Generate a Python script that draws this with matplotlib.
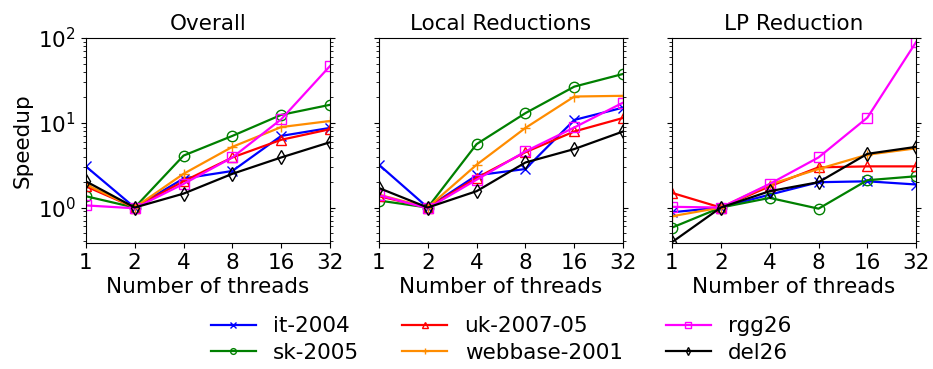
import matplotlib
matplotlib.use("Agg")
import matplotlib.pyplot as plt
from matplotlib.ticker import FixedLocator, FixedFormatter, NullLocator

threads = [1, 2, 4, 8, 16, 32]
thread_labels = ["1", "2", "4", "8", "16", "32"]
titles = ["Overall", "Local Reductions", "LP Reduction"]
series_names = ["it-2004", "sk-2005", "uk-2007-05", "webbase-2001", "rgg26", "del26"]

overall_it = [3.06, 1.0, 2.2, 2.7, 7.0, 8.7]
overall_sk = [1.36, 1.0, 4.1, 7.0, 12.4, 16.3]
overall_uk = [1.78, 1.0, 2.04, 3.9, 6.3, 8.4]
overall_web = [1.87, 1.0, 2.5, 5.2, 8.9, 10.5]
overall_rgg = [1.06, 0.98, 1.9, 3.9, 11.0, 46.8]
overall_del = [2.04, 1.0, 1.46, 2.5, 3.9, 5.9]

local_it = [3.2, 1.0, 2.4, 2.85, 10.8, 15.1]
local_sk = [1.21, 1.0, 5.6, 13.0, 26.7, 37.7]
local_uk = [1.36, 1.0, 2.24, 4.5, 7.9, 11.4]
local_web = [1.42, 1.0, 3.2, 8.7, 20.4, 20.8]
local_rgg = [1.4, 0.98, 2.13, 4.6, 8.8, 17.3]
local_del = [1.70, 1.0, 1.56, 3.4, 4.9, 7.9]

lp_it = [0.88, 1.0, 1.42, 1.99, 2.04, 1.87]
lp_sk = [0.58, 1.0, 1.30, 0.97, 2.1, 2.34]
lp_uk = [1.49, 1.0, 1.78, 2.98, 3.06, 3.06]
lp_web = [0.79, 1.0, 1.87, 2.85, 4.2, 5.0]
lp_rgg = [1.02, 1.0, 1.9, 3.9, 11.5, 90.0]
lp_del = [0.39, 1.0, 1.56, 1.99, 4.3, 5.2]

panels = [
    [overall_it, overall_sk, overall_uk, overall_web, overall_rgg, overall_del],
    [local_it, local_sk, local_uk, local_web, local_rgg, local_del],
    [lp_it, lp_sk, lp_uk, lp_web, lp_rgg, lp_del],
]

colors = ["blue", "green", "red", "darkorange", "magenta", "black"]
markers = ["x", "o", "^", "+", "s", "d"]

FS = 15.5
plt.rcParams["font.family"] = "DejaVu Sans"
plt.rcParams["font.size"] = FS

fig, axes = plt.subplots(1, 3, figsize=(9.33, 3.69), dpi=100, sharey=True)
fig.subplots_adjust(left=0.092, right=0.982, top=0.897, bottom=0.341, wspace=0.2)

handles = []
for i, ax in enumerate(axes):
    for name, vals, c, m in zip(series_names, panels[i], colors, markers):
        h, = ax.plot(threads, vals, color=c, marker=m, markersize=7.5,
                     markerfacecolor="none", markeredgecolor=c, lw=1.6, label=name)
        if i == 0:
            handles.append(h)
    ax.set_xscale("log", base=2)
    ax.set_yscale("log")
    ax.set_xlim(1, 32)
    ax.set_ylim(0.38, 100)
    ax.xaxis.set_major_locator(FixedLocator(threads))
    ax.xaxis.set_major_formatter(FixedFormatter(thread_labels))
    ax.xaxis.set_minor_locator(NullLocator())
    ax.tick_params(axis="y", which="both", left=True, right=True)
    ax.tick_params(axis="both", labelsize=FS)
    ax.set_title(titles[i], fontsize=FS)
    ax.set_xlabel("Number of threads", fontsize=FS, labelpad=3)

axes[0].set_ylabel("Speedup", fontsize=FS)

fig.legend(handles=handles, loc="upper center", ncol=3, frameon=False,
           bbox_to_anchor=(0.537, 0.195), fontsize=FS, columnspacing=2.0,
           handlelength=2.1, markerscale=0.55, labelspacing=0.3,
           handletextpad=0.8)

fig.savefig("out.png", dpi=100)
